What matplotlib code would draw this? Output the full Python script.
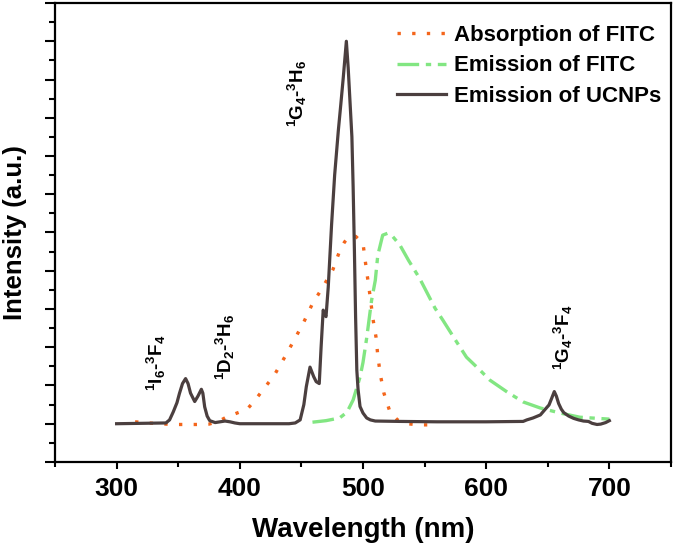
import numpy as np
import matplotlib
matplotlib.use("Agg")
import matplotlib.pyplot as plt
from matplotlib.ticker import MultipleLocator, NullFormatter

plt.rcParams['font.family'] = ['Liberation Sans', 'DejaVu Sans']
plt.rcParams['font.weight'] = 'bold'
plt.rcParams['mathtext.fontset'] = 'custom'
plt.rcParams['mathtext.rm'] = 'Liberation Sans:bold'
plt.rcParams['mathtext.it'] = 'Liberation Sans:bold'
plt.rcParams['mathtext.bf'] = 'Liberation Sans:bold'
plt.rcParams['mathtext.default'] = 'rm'

## DATA
# Emission of UCNPs
wl_ucnp = [300, 340, 343, 346, 349, 351, 353.5, 356, 358, 360, 363.4, 366, 368.8, 370,
           371.5, 373.5, 375.6, 380, 384, 388, 392, 396, 400, 420, 440, 445, 449, 452,
           454, 457, 460, 462, 464.5, 466, 467.7, 469, 470, 471.8, 474.5, 477, 480, 482,
           484, 486.5, 488, 490, 491, 492, 493, 494, 495, 496, 497.6, 500, 503, 506, 510,
           530, 560, 600, 630, 633, 638, 644, 648, 651, 653, 655.3, 657, 658.8, 661,
           663, 667, 671, 675, 679, 683, 686, 690, 693, 697, 700]
int_ucnp = [1.0, 1.02, 1.1, 1.31, 1.55, 1.79, 2.05, 2.18, 2.05, 1.8, 1.58, 1.72, 1.9, 1.8,
            1.44, 1.2, 1.08, 1.03, 1.05, 1.07, 1.05, 1.02, 1.0, 1.0, 1.0, 1.02, 1.1, 1.5,
            1.97, 2.48, 2.23, 2.1, 2.05, 3.0, 3.97, 3.85, 3.8, 4.57, 6.2, 7.5, 8.67, 9.35,
            10.05, 11.0, 10.3, 9.1, 8.5, 7.2, 5.6, 3.8, 2.4, 1.9, 1.45, 1.28, 1.15, 1.1, 1.07,
            1.06, 1.05, 1.05, 1.06, 1.1, 1.15, 1.23, 1.38, 1.49, 1.65, 1.84, 1.72, 1.53, 1.38,
            1.29, 1.2, 1.14, 1.1, 1.07, 1.06, 1.01, 0.98, 0.99, 1.03, 1.08]

# Absorption of FITC
wl_abs = [315, 325, 335, 345, 355, 365, 375, 382, 389, 397, 406, 412, 418, 428, 437, 445,
          452, 459, 467, 475.6, 481, 485, 489, 494, 500, 502, 504, 506, 508, 510.6, 512,
          514, 517, 522, 528, 536, 545, 553]
int_abs = [1.05, 1.02, 1.0, 0.98, 0.98, 0.98, 0.99, 1.05, 1.17, 1.27, 1.38, 1.6, 1.85, 2.27,
           2.77, 3.24, 3.66, 4.14, 4.55, 5.03, 5.51, 5.75, 5.9, 5.9, 5.72, 5.22, 4.75, 4.28,
           3.76, 3.26, 2.79, 2.3, 1.8, 1.3, 1.1, 1.0, 0.97, 0.97]

# Emission of FITC
wl_fem = [459, 470, 481, 487, 492, 497.6, 500, 503, 507, 510, 512, 516, 520, 524, 530, 537,
          546, 558.5, 565, 575, 584, 595, 603, 617, 630, 644, 660, 676, 700]
int_fem = [1.04, 1.08, 1.15, 1.3, 1.62, 2.22, 2.6, 3.24, 4.23, 4.75, 5.4, 5.93, 5.98, 5.9,
           5.67, 5.27, 4.8, 4.02, 3.7, 3.19, 2.74, 2.4, 2.14, 1.83, 1.57, 1.41, 1.28, 1.17, 1.12]

# transition labels: text, wavelength, height
labels = [r'$^{1}$I$_{6}$-$^{3}$F$_{4}$',
          r'$^{1}$D$_{2}$-$^{3}$H$_{6}$',
          r'$^{1}$G$_{4}$-$^{3}$H$_{6}$',
          r'$^{1}$G$_{4}$-$^{3}$F$_{4}$']
label_wl = [332.5, 388.6, 447, 662.6]
label_h = [2.58, 3.0, 9.63, 3.26]

fig = plt.figure(figsize=(6.75, 5.48), dpi=100, facecolor='w')
ax = fig.add_axes([0.0815, 0.157, 0.9125, 0.8375])

ax.plot(wl_abs, int_abs, color='#f4651b', linewidth=2.4, linestyle=(0, (1, 3.4)),
        label='Absorption of FITC')
ax.plot(wl_fem, int_fem, color='#82e682', linewidth=2.4, linestyle=(0, (6.5, 2, 1.6, 2)),
        label='Emission of FITC')
ax.plot(wl_ucnp, int_ucnp, color='#4b3f3f', linewidth=2.3, label='Emission of UCNPs')

for txt, xw, yh in zip(labels, label_wl, label_h):
    ax.text(xw, yh, txt, rotation=90, ha='center', va='center', fontsize=13.5,
            fontweight='bold')

ax.set_xlim(250, 750)
ax.set_ylim(0, 12)
ax.xaxis.set_major_locator(MultipleLocator(100))
ax.xaxis.set_minor_locator(MultipleLocator(50))
ax.yaxis.set_major_locator(MultipleLocator(1))
ax.yaxis.set_minor_locator(MultipleLocator(0.5))
ax.yaxis.set_major_formatter(NullFormatter())

ax.tick_params(axis='x', which='major', direction='out', length=5, width=1.5,
               labelsize=19, pad=6, top=False)
ax.tick_params(axis='x', which='minor', direction='out', length=3.5, width=1.5, top=False)
ax.tick_params(axis='y', which='major', direction='out', length=7, width=1.5, right=False)
ax.tick_params(axis='y', which='minor', direction='out', length=4.5, width=1.5, right=False)
for s in ax.spines.values():
    s.set_linewidth(1.6)

ax.set_xlabel('Wavelength (nm)', fontsize=20, fontweight='bold', labelpad=11)
ax.set_ylabel('Intensity (a.u.)', fontsize=18.5, fontweight='bold', labelpad=10)

ax.legend(loc='upper left', bbox_to_anchor=(0.555, 0.952), frameon=False, fontsize=16,
          handlelength=2.2, handletextpad=0.35, labelspacing=0.42, borderpad=0,
          borderaxespad=0)

fig.savefig('out.png', dpi=100)
